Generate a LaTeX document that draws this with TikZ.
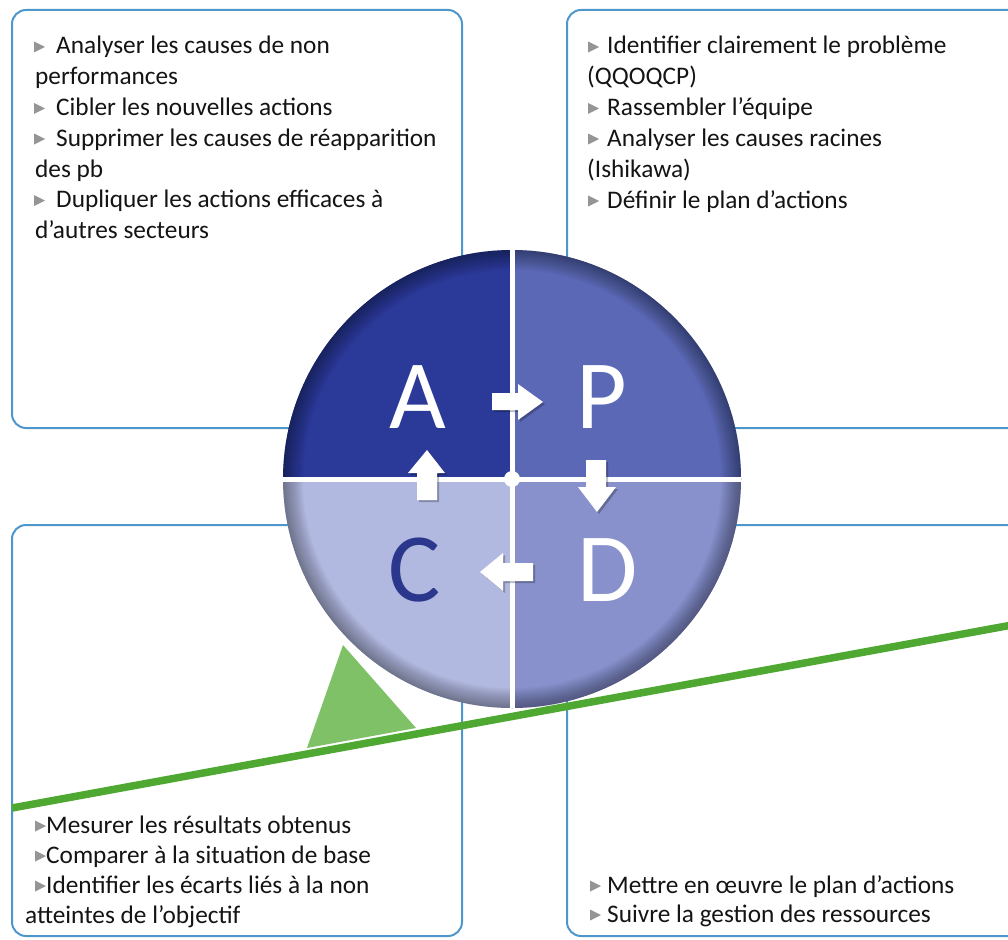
\documentclass[tikz,border=0pt]{standalone}
\usepackage{fontspec}
\setmainfont{Carlito}
\definecolor{boxblue}{HTML}{4E97CC}
\definecolor{qa}{HTML}{2B3A98}
\definecolor{qp}{HTML}{5B68B6}
\definecolor{qd}{HTML}{8891CC}
\definecolor{qc}{HTML}{B2B9E0}
\definecolor{cletter}{HTML}{2A378C}
\definecolor{lgreen}{HTML}{4FA832}
\definecolor{tgreen}{HTML}{7FC166}
\definecolor{bulgray}{HTML}{959595}
\definecolor{txt}{HTML}{141414}
\begin{document}
\begin{tikzpicture}[x=1pt,y=-1pt,
  panel/.style={draw=boxblue, line width=2pt, rounded corners=14pt, fill=white},
  item/.style={anchor=base west, inner sep=0pt, font=\fontsize{25.3}{30}\selectfont, text=txt},
  letter/.style={anchor=base, inner sep=0pt, font=\fontsize{98}{98}\selectfont, text=white},
  blockarrow/.style={fill=white},
  arrowshadow/.style={fill=black, fill opacity=0.25},
  bul/.style={fill=bulgray}]
\useasboundingbox (0,0) rectangle (1008,939);
\clip (0,0) rectangle (1008,939);

% panels
\draw[panel] (12,10) rectangle (462,428);
\draw[panel] (567,10) rectangle (1040,428);
\draw[panel] (12,525) rectangle (462,936);
\draw[panel] (567,525) rectangle (1040,936);

% circle
\coordinate (O) at (512,479);
\begin{scope}
  \clip (O) circle[radius=229pt];
  \fill[qa] (O) rectangle ++(-240,-240);
  \fill[qp] (O) rectangle ++(240,-240);
  \fill[qd] (O) rectangle ++(240,240);
  \fill[qc] (O) rectangle ++(-240,240);
  \foreach \i [evaluate=\i as \w using 2*\i] in {1,...,20}
    \draw[black, line width=\w pt, draw opacity=0.02] (O) circle[radius=229pt];
  \draw[white, line width=5pt] (512,240) -- (512,720);
  \draw[white, line width=5pt] (270,479) -- (760,479);
\end{scope}
\fill[white] (O) circle[radius=8pt];

% block arrows
\foreach \dx/\op in {2/arrowshadow,0/blockarrow}{
  \begin{scope}[shift={(\dx,\dx)}]
  \fill[\op] (492,393) -- (518,393) -- (518,384) -- (543,402) -- (518,420) -- (518,410) -- (492,410) -- cycle;
  \fill[\op] (586,460) -- (606,460) -- (606,487) -- (616,487) -- (597,512) -- (578,487) -- (586,487) -- cycle;
  \fill[\op] (533,563) -- (533,581) -- (503,581) -- (503,591) -- (480,572) -- (503,553) -- (503,563) -- cycle;
  \fill[\op] (417,500) -- (437,500) -- (437,473) -- (445,473) -- (427,450) -- (408,473) -- (417,473) -- cycle;
  \end{scope}
}

% letters
\node[letter] (lA) at (418,428) {A};
\node[letter] (lP) at (602,428) {P};
\node[letter, text=cletter] (lC) at (415,601) {C};
\node[letter] (lD) at (608,601) {D};

% seesaw
\fill[tgreen] (343,645) -- (416,728) -- (307,748) -- cycle;
\draw[lgreen, line width=7.5pt] (12,808) -- (1012,625);

% bullets
\foreach \bx/\by in {34/54, 34/115.4, 34/146, 34/207.5,
                     588/54, 588/115.4, 588/146, 588/208,
                     35/833, 35/863, 35/893,
                     590/893, 590/922}
  \fill[bul] (\bx,\by-12.5) -- (\bx+11,\by-7) -- (\bx,\by-1.5) -- cycle;

% top-left text
\node[item] (tl1) at (56,54) {Analyser les causes de non};
\node[item] (tl2) at (35,84.7) {performances};
\node[item] (tl3) at (56,115.4) {Cibler les nouvelles actions};
\node[item] (tl4) at (56,146) {Supprimer les causes de réapparition};
\node[item] (tl5) at (35,177) {des pb};
\node[item] (tl6) at (56,207.5) {Dupliquer les actions efficaces à};
\node[item] (tl7) at (35,238) {d’autres secteurs};

% top-right text
\node[item] (tr1) at (607,54) {Identifier clairement le problème};
\node[item] (tr2) at (587,85) {(QQOQCP)};
\node[item] (tr3) at (607,115.4) {Rassembler l’équipe};
\node[item] (tr4) at (607,146) {Analyser les causes racines};
\node[item] (tr5) at (587,177) {(Ishikawa)};
\node[item] (tr6) at (607,208) {Définir le plan d’actions};

% bottom-left text
\node[item] (bl1) at (46,833) {Mesurer les résultats obtenus};
\node[item] (bl2) at (46,863) {Comparer à la situation de base};
\node[item] (bl3) at (46,893) {Identifier les écarts liés à la non};
\node[item] (bl4) at (25,923) {atteintes de l’objectif};

% bottom-right text
\node[item] (br1) at (607,893) {Mettre en œuvre le plan d’actions};
\node[item] (br2) at (607,922) {Suivre la gestion des ressources};
\end{tikzpicture}
\end{document}
